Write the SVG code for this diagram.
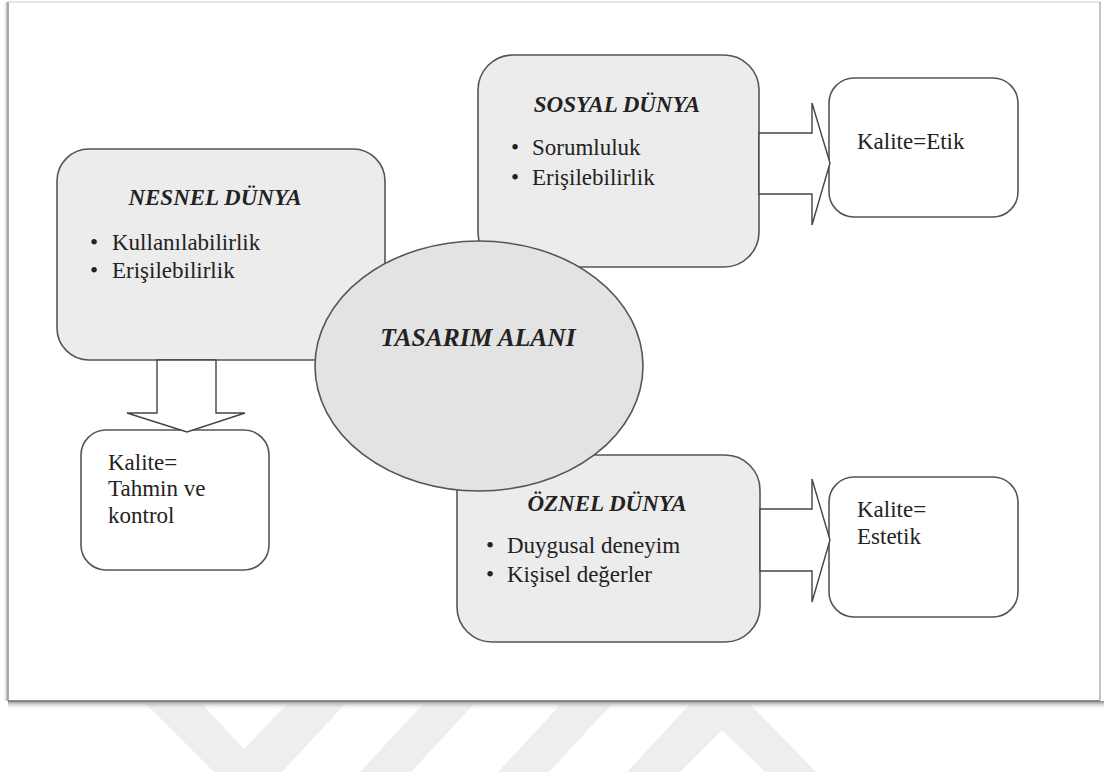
<svg xmlns="http://www.w3.org/2000/svg" width="1104" height="772" viewBox="0 0 1104 772">
<style>
.box{fill:#ececec;stroke:#555;stroke-width:1.6}
.wbox{fill:#fff;stroke:#555;stroke-width:1.6}
.arrow{fill:#fff;stroke:#444;stroke-width:1.4;stroke-linejoin:miter}
.t{font-family:'Liberation Serif','Times New Roman',Times,'DejaVu Serif',serif;font-size:23px;fill:#222}
.h{font-family:'Liberation Serif','Times New Roman',Times,'DejaVu Serif',serif;font-size:23px;font-weight:bold;font-style:italic;fill:#222}
.wm{fill:#eeeeee}
</style>
<defs>
<linearGradient id="sh" x1="0" y1="0" x2="0" y2="1">
<stop offset="0" stop-color="#8a8a8a"/>
<stop offset="1" stop-color="#ffffff" stop-opacity="0"/>
</linearGradient>
<linearGradient id="shl" x1="1" y1="0" x2="0" y2="0">
<stop offset="0" stop-color="#9a9a9a"/>
<stop offset="1" stop-color="#ffffff" stop-opacity="0"/>
</linearGradient>
</defs>
<rect width="1104" height="772" fill="#fff"/>
<g id="watermark">
<polygon class="wm" points="146,704 202,704 244,749 287,704 345,704 282,772 214,772"/>
<polygon class="wm" points="423,704 474,704 411,772 360,772"/>
<polygon class="wm" points="561,704 612,704 549,772 498,772"/>
<polygon class="wm" points="690,704 750,704 816,772 765,772 722,730 680,772 627,772"/>
</g>
<g id="frame">
<rect x="3" y="2" width="5" height="699" fill="url(#shl)"/>
<rect x="8" y="701" width="1096" height="9" fill="url(#sh)"/>
<rect x="8" y="2" width="1092" height="699" fill="#fff" stroke="#cfcfcf" stroke-width="1"/>
<line x1="8" y1="2" x2="8" y2="701" stroke="#999" stroke-width="1.5"/>
<line x1="8" y1="701" x2="1100" y2="701" stroke="#6f6f6f" stroke-width="1.5"/>
<line x1="1100" y1="2" x2="1100" y2="701" stroke="#aaa" stroke-width="1.2"/>
</g>
<g id="nesnel">
<rect class="box" x="57" y="149" width="328" height="211" rx="32"/>
<text class="h" x="215" y="205" text-anchor="middle" font-family="Liberation Serif, serif">NESNEL DÜNYA</text>
<text class="t" x="90" y="250">•</text>
<text class="t" x="112" y="250">Kullanılabilirlik</text>
<text class="t" x="90" y="278">•</text>
<text class="t" x="112" y="278">Erişilebilirlik</text>
</g>
<g id="sosyal">
<rect class="box" x="478" y="55" width="281" height="212" rx="35"/>
<text class="h" x="617" y="112" text-anchor="middle">SOSYAL DÜNYA</text>
<text class="t" x="511" y="155">•</text>
<text class="t" x="532" y="155">Sorumluluk</text>
<text class="t" x="511" y="185">•</text>
<text class="t" x="532" y="185">Erişilebilirlik</text>
</g>
<g id="oznel">
<rect class="box" x="457" y="455" width="303" height="187" rx="35"/>
<text class="h" x="607" y="511" text-anchor="middle">ÖZNEL DÜNYA</text>
<text class="t" x="486" y="553">•</text>
<text class="t" x="507" y="553">Duygusal deneyim</text>
<text class="t" x="486" y="582">•</text>
<text class="t" x="507" y="582">Kişisel değerler</text>
</g>
<g id="tasarim">
<ellipse cx="479" cy="366" rx="164" ry="125" fill="#e3e3e3" stroke="#555" stroke-width="1.6"/>
<text class="h" x="478" y="346" text-anchor="middle" style="font-size:25.5px">TASARIM ALANI</text>
</g>
<g id="kalite-tahmin">
<rect class="wbox" x="81" y="430" width="188" height="140" rx="25"/>
<text class="t" x="108" y="470">Kalite=</text>
<text class="t" x="108" y="496">Tahmin ve</text>
<text class="t" x="108" y="523">kontrol</text>
</g>
<g id="kalite-etik">
<rect class="wbox" x="829" y="78" width="189" height="139" rx="25"/>
<text class="t" x="857" y="149">Kalite=Etik</text>
</g>
<g id="kalite-estetik">
<rect class="wbox" x="829" y="477" width="189" height="140" rx="25"/>
<text class="t" x="857" y="517">Kalite=</text>
<text class="t" x="857" y="544">Estetik</text>
</g>
<g id="connectors">
<polygon class="arrow" points="157,360 216,360 216,413 245,413 187,432 127,413 157,413"/>
<polygon class="arrow" points="759,133 812,133 812,103 830,163 812,225 812,194 759,194"/>
<polygon class="arrow" points="760,509 812,509 812,479 830,540 812,602 812,571 760,571"/>
</g>
</svg>
